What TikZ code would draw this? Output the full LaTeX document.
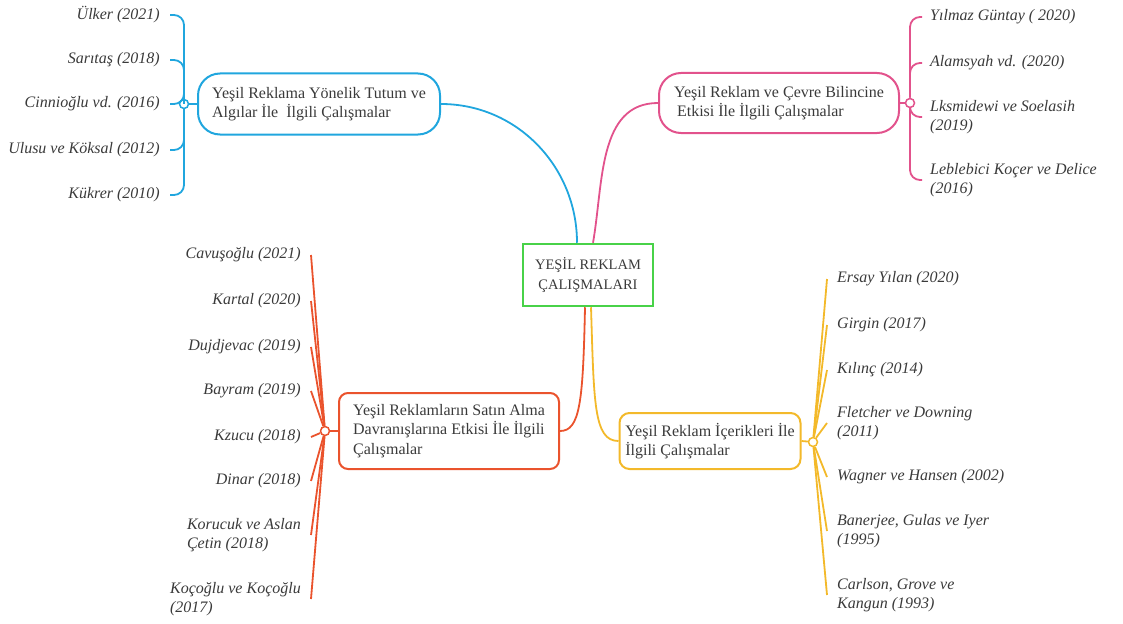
\documentclass[tikz,border=0pt]{standalone}
\usepackage{fontspec}
\setmainfont{Liberation Serif}
\definecolor{mavi}{RGB}{32,166,222}
\definecolor{pembe}{RGB}{226,82,140}
\definecolor{kirmizi}{RGB}{234,83,45}
\definecolor{sari}{RGB}{243,185,42}
\definecolor{yesil}{RGB}{72,210,72}
\definecolor{metin}{RGB}{58,58,58}

\begin{document}
\begin{tikzpicture}[x=1pt,y=-1pt,
    kutu/.style={draw,line width=2pt,align=left,text=metin,font=\fontsize{16}{19.5}\selectfont},
    kaynak/.style={text=metin,align=left,font=\fontsize{16}{19.5}\selectfont\itshape,inner xsep=10pt,inner ysep=2pt},
    dal/.style={line width=1.8pt},
    halka/.style={circle,draw,fill=white,line width=1.5pt,inner sep=0pt,minimum size=9pt}]
    \useasboundingbox (0,0) rectangle (1123,623);
    \node[draw=yesil,line width=2.5pt,minimum width=130pt,minimum height=62pt,align=center,text=metin,font=\fontsize{14.5}{20}\selectfont] (merkez) at (588,275) {YEŞİL REKLAM\\ÇALIŞMALARI};

    \node[kutu,draw=mavi,rounded corners=22pt,minimum width=242pt,minimum height=61pt] (tutum) at (319,104) {Yeşil Reklama Yönelik Tutum ve\\Algılar İle \ İlgili Çalışmalar};
    \node[kutu,draw=pembe,rounded corners=22pt,minimum width=240pt,minimum height=60pt] (cevre) at (779,103) {Yeşil Reklam ve Çevre Bilincine\\\hspace*{3pt}Etkisi İle İlgili Çalışmalar};
    \node[kutu,draw=kirmizi,rounded corners=9pt,minimum width=220pt,minimum height=76pt] (satin) at (449,431) {Yeşil Reklamların Satın Alma\\Davranışlarına Etkisi İle İlgili\\Çalışmalar};
    \node[kutu,draw=sari,rounded corners=10pt,minimum width=181pt,minimum height=56pt] (icerik) at (710,441) {Yeşil Reklam İçerikleri İle\\İlgili Çalışmalar};

    \node[halka,draw=mavi] (tutumh) at (184,104) {};
    \node[halka,draw=pembe] (cevreh) at (910,103) {};
    \node[halka,draw=kirmizi] (satinh) at (325,431) {};
    \node[halka,draw=sari] (icerikh) at (813,442) {};

    \draw[dal,mavi] ([xshift=-11pt]merkez.north) to[out=90,in=0] (tutum.east);
    \draw[dal,pembe] ([xshift=5pt]merkez.north) to[out=80,in=180] (cevre.west);
    \draw[dal,kirmizi] ([xshift=-3pt]merkez.south) .. controls +(-2,95) and +(20,0) .. (satin.east);
    \draw[dal,sari] ([xshift=3pt]merkez.south) .. controls +(3,95) and +(-25,0) .. (icerik.west);

    \draw[dal,mavi] (tutum.west) -- (tutumh);
    \draw[dal,pembe] (cevre.east) -- (cevreh);
    \draw[dal,kirmizi] (satin.west) -- (satinh);
    \draw[dal,sari] (icerik.east) -- (icerikh);

    \foreach \ad/\y/\yazi in {ulker/15/{Ülker (2021)}, saritas/60/{Sarıtaş (2018)},
        cinnioglu/104/{Cinnioğlu vd. (2016)}, ulusu/150/{Ulusu ve Köksal (2012)},
        kukrer/195/{Kükrer (2010)}} {
        \node[kaynak,anchor=east] (\ad) at (170,\y) {\yazi};
        \draw[dal,mavi,rounded corners=10pt] (tutumh) |- (\ad.east);
    }

    \foreach \ad/\y/\yazi in {yilmaz/17/{Yılmaz Güntay ( 2020)}, alamsyah/63/{Alamsyah vd. (2020)},
        lksmidewi/117/{Lksmidewi ve Soelasih\\(2019)}, leblebici/180/{Leblebici Koçer ve Delice\\(2016)}} {
        \node[kaynak,anchor=west,inner xsep=8pt] (\ad) at (922,\y) {\yazi};
        \draw[dal,pembe,rounded corners=10pt] (cevreh) |- (\ad.west);
    }

    \foreach \ad/\y/\yazi in {cavusoglu/255/{Cavuşoğlu (2021)}, kartal/301/{Kartal (2020)},
        dujdjevac/347/{Dujdjevac (2019)}, bayram/391/{Bayram (2019)}, kzucu/437/{Kzucu (2018)},
        dinar/481/{Dinar (2018)}, korucuk/535/{Korucuk ve Aslan\\Çetin (2018)},
        kocoglu/599/{Koçoğlu ve Koçoğlu\\(2017)}} {
        \node[kaynak,anchor=east] (\ad) at (311,\y) {\yazi};
        \draw[dal,kirmizi] (satinh) -- (\ad.east);
    }

    \foreach \ad/\y/\yazi in {ersay/279/{Ersay Yılan (2020)}, girgin/325/{Girgin (2017)},
        kilinc/370/{Kılınç (2014)}, fletcher/423/{Fletcher ve Downing\\(2011)},
        wagner/477/{Wagner ve Hansen (2002)}, banerjee/531/{Banerjee, Gulas ve Iyer\\(1995)},
        carlson/595/{Carlson, Grove ve\\Kangun (1993)}} {
        \node[kaynak,anchor=west] (\ad) at (827,\y) {\yazi};
        \draw[dal,sari] (icerikh) -- (\ad.west);
    }
\end{tikzpicture}
\end{document}
